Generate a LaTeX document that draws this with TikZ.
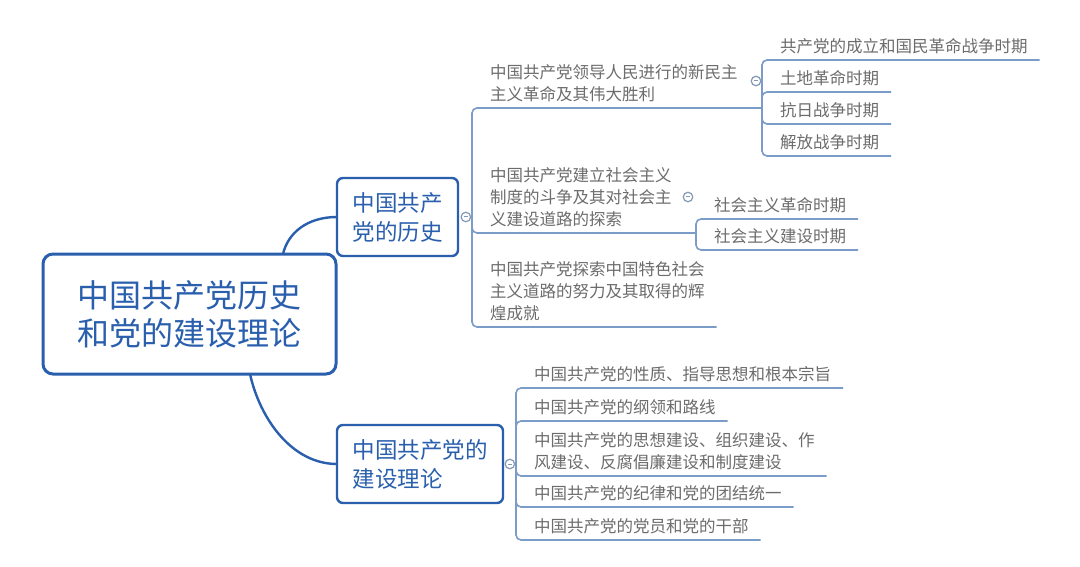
\documentclass[tikz,border=0pt]{standalone}
\usepackage{fontspec}
\setmainfont{Noto Sans CJK SC}
\usetikzlibrary{positioning}

\definecolor{mapblue}{HTML}{2A5FAE}
\definecolor{twigblue}{HTML}{7B9CC8}
\definecolor{leafgray}{HTML}{6C6C6C}
\definecolor{foldgray}{HTML}{8499B4}

\begin{document}
\begin{tikzpicture}[
    x=1pt, y=-1pt,
    root/.style={draw=mapblue, line width=3pt, rounded corners=10pt, fill=white, text=mapblue,
      font=\fontsize{32}{38}\selectfont, align=center, inner xsep=34.5pt, minimum height=120pt,
      outer sep=0pt, anchor=west},
    topic/.style={draw=mapblue, line width=2.4pt, rounded corners=6pt, fill=white, text=mapblue,
      font=\fontsize{22.5}{29}\selectfont, align=left, inner xsep=15.5pt, minimum height=78pt,
      outer sep=0pt, anchor=west},
    leaf/.style={anchor=south west, inner xsep=12pt, inner ysep=1pt, outer sep=0pt, text=leafgray,
      font=\fontsize{16.5}{22}\selectfont, align=left,
      execute at begin node=\strut, execute at end node=\strut},
    fold/.style={circle, draw=foldgray, line width=1.2pt, fill=white, inner sep=0pt, minimum size=9.5pt,
      path picture={\draw[foldgray, line width=1pt]
        ([xshift=-2.2pt]path picture bounding box.center) -- ([xshift=2.2pt]path picture bounding box.center);}},
    limb/.style={draw=mapblue, line width=2.4pt},
    twig/.style={draw=twigblue, line width=1.6pt, rounded corners=5pt}
  ]
  \fill[white] (0,0) rectangle (1080,567);

  % central topic and the two main branches
  \node[root] (root) at (43,314) {中国共产党历史\\和党的建设理论};
  \node[topic] (hist) at (337,217) {中国共产\\党的历史};
  \node[topic] (build) at (337,464) {中国共产党的\\建设理论};

  \draw[limb] ([xshift=93.5pt]root.north) .. controls +(5,-21) and +(-30,0) .. (hist.west);
  \draw[limb] ([xshift=60.5pt]root.south) .. controls +(10,45) and +(-45,0) .. (build.west);

  % history branch
  \node[fold, right=2.5pt of hist] (hist-fold) {};
  \coordinate (hist-j) at (472,218);
  \coordinate (rev-j) at (762,108);
  \coordinate (soc-j) at (696,233);
  \node[leaf] (rev) at (478,108) {中国共产党领导人民进行的新民主\\主义革命及其伟大胜利};
  \node[leaf] (soc) at (478,233) {中国共产党建立社会主义\\制度的斗争及其对社会主\\义建设道路的探索};
  \node[leaf] (path) at (478,327) {中国共产党探索中国特色社会\\主义道路的努力及其取得的辉\\煌成就};
  \draw[twig] (hist-fold) -- (hist-j);
  \draw[twig] (hist-j) |- (rev-j);
  \draw[twig] (hist-j) |- (soc-j);
  \draw[twig] (hist-j) |- (path.south east);

  % periods of the new-democratic revolution
  \node[fold] (rev-fold) at (756,81) {};
  \node[leaf] (rev1) at (768,60) {共产党的成立和国民革命战争时期};
  \node[leaf] (rev2) at (768,92) {土地革命时期};
  \node[leaf] (rev3) at (768,124) {抗日战争时期};
  \node[leaf] (rev4) at (768,156) {解放战争时期};
  \foreach \i in {1,...,4}
    \draw[twig] (rev-j) |- (rev\i.south east);

  % socialist periods
  \node[fold] (soc-fold) at (688,197) {};
  \node[leaf] (soc1) at (702,219) {社会主义革命时期};
  \node[leaf] (soc2) at (702,250) {社会主义建设时期};
  \foreach \i in {1,2}
    \draw[twig] (soc-j) |- (soc\i.south east);

  % party building branch
  \node[fold, right=1.5pt of build] (build-fold) {};
  \coordinate (build-j) at (516,464);
  \node[leaf] (bld1) at (522,388) {中国共产党的性质、指导思想和根本宗旨};
  \node[leaf] (bld2) at (522,421) {中国共产党的纲领和路线};
  \node[leaf] (bld3) at (522,476) {中国共产党的思想建设、组织建设、作\\风建设、反腐倡廉建设和制度建设};
  \node[leaf] (bld4) at (522,507) {中国共产党的纪律和党的团结统一};
  \node[leaf] (bld5) at (522,540) {中国共产党的党员和党的干部};
  \draw[twig] (build-fold) -- (build-j);
  \foreach \i in {1,...,5}
    \draw[twig] (build-j) |- (bld\i.south east);
\end{tikzpicture}
\end{document}
